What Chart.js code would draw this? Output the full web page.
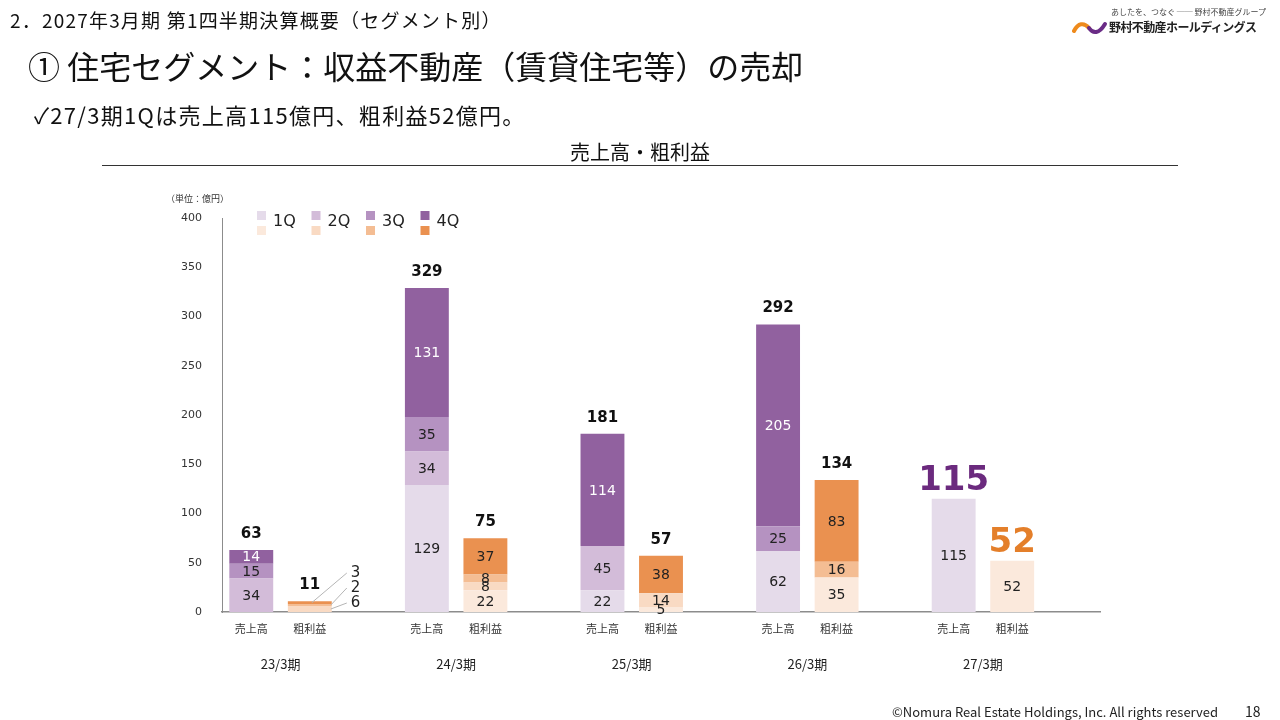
<!DOCTYPE html>
<html lang="ja">
<head>
<meta charset="utf-8">
<script src="https://cdn.jsdelivr.net/npm/chart.js@4.4.1/dist/chart.umd.min.js"></script>
<style>
	body { margin: 0; background: #fff; }
	#page { position: relative; width: 1280px; height: 720px; overflow: hidden; font-family: "Noto Sans CJK JP", "Noto Sans", sans-serif; color: #111; }
	#page canvas { position: absolute; left: 0; top: 0; }
	.txt { position: absolute; white-space: nowrap; line-height: 1; }
</style>
</head>
<body>
<div id="page">
	<canvas id="chart" width="1280" height="720"></canvas>
	<div class="txt" style="left:10px; top:10px; font-size:19px; letter-spacing:1.2px;">2．2027年3月期 第1四半期決算概要（セグメント別）</div>
	<div class="txt" style="left:28px; top:49px; font-size:32px;">① 住宅セグメント：収益不動産（賃貸住宅等）の売却</div>
	<div class="txt" style="left:34px; top:103px; font-size:22px; letter-spacing:1.3px;">✓27/3期1Qは売上高115億円、粗利益52億円。</div>
	<div class="txt" style="left:1111px; top:8px; font-size:8px; color:#444;">あしたを、つなぐ ── 野村不動産グループ</div>
	<div class="txt" style="left:1109px; top:21px; font-size:12px; letter-spacing:-0.6px; font-weight:bold; color:#222;">野村不動産ホールディングス</div>
	<svg style="position:absolute; left:1072px; top:18px;" width="36" height="20" viewBox="0 0 36 20">
		<path d="M2 13 C6 5, 12 4, 17 10" stroke="#ee8a1c" stroke-width="4" fill="none" stroke-linecap="round"/>
		<path d="M17 10 C21 16, 27 16, 33 6" stroke="#6a2c86" stroke-width="4" fill="none" stroke-linecap="round"/>
	</svg>
	<div class="txt" style="left:892px; top:705px; font-size:13px; color:#222;">©Nomura Real Estate Holdings, Inc. All rights reserved</div>
	<div class="txt" style="left:1245px; top:704px; font-size:14px; color:#222;">18</div>
</div>
<script>
// periods and quarter values (億円)
const periods = ["23/3期", "24/3期", "25/3期", "26/3期", "27/3期"];
const quarterNames = ["1Q", "2Q", "3Q", "4Q"];
const salesQ1 = [0, 129, 22, 62, 115];
const salesQ2 = [34, 34, 45, 0, 0];
const salesQ3 = [15, 35, 0, 25, 0];
const salesQ4 = [14, 131, 114, 205, 0];
const profitQ1 = [0, 22, 5, 35, 52];
const profitQ2 = [6, 8, 14, 0, 0];
const profitQ3 = [2, 8, 0, 16, 0];
const profitQ4 = [3, 37, 38, 83, 0];
const yTicks = [0, 50, 100, 150, 200, 250, 300, 350, 400];
const subLabels = ["売上高", "粗利益"];

const salesColors = ["#e5dbea", "#d3bcd9", "#b592c1", "#91619f"];
const profitColors = ["#fbe9dc", "#f9dac3", "#f4bd93", "#ea9150"];
const numFont = "'DejaVu Sans', Verdana, sans-serif";
const jpFont = "'Noto Sans CJK JP', sans-serif";

const salesSeries = [salesQ1, salesQ2, salesQ3, salesQ4];
const profitSeries = [profitQ1, profitQ2, profitQ3, profitQ4];

// three slots per period: sales, gross profit, gap
const slotLabels = [];
periods.forEach(() => slotLabels.push(subLabels[0], subLabels[1], ""));

function spread(values, offset) {
	const out = slotLabels.map(() => null);
	values.forEach((v, i) => { out[i * 3 + offset] = v; });
	return out;
}

const datasets = [];
salesSeries.forEach((vals, q) => {
	datasets.push({ label: "売上高" + quarterNames[q], data: spread(vals, 0), backgroundColor: salesColors[q], stack: "s", kind: 0, q: q });
});
profitSeries.forEach((vals, q) => {
	datasets.push({ label: "粗利益" + quarterNames[q], data: spread(vals, 1), backgroundColor: profitColors[q], stack: "s", kind: 1, q: q });
});

function total(series, i) {
	return series.reduce((sum, arr) => sum + arr[i], 0);
}

const labelPlugin = {
	id: "labels",
	afterDatasetsDraw(chart) {
		const ctx = chart.ctx;
		const area = chart.chartArea;
		const yScale = chart.scales.y;
		const xScale = chart.scales.x;
		const last = periods.length - 1;
		ctx.save();
		ctx.textAlign = "center";
		ctx.textBaseline = "middle";

		// segment values
		chart.data.datasets.forEach((ds, d) => {
			const meta = chart.getDatasetMeta(d);
			meta.data.forEach((bar, slot) => {
				const v = ds.data[slot];
				if (!v) return;
				const p = Math.floor(slot / 3);
				if (p === 0 && ds.kind === 1) return;
				ctx.font = "14px " + numFont;
				ctx.fillStyle = ds.kind === 0 && ds.q === 3 ? "#ffffff" : "#222222";
				ctx.fillText(String(v), bar.x, (bar.y + bar.base) / 2 + 1);
			});
		});

		// first period gross profit: labels outside with leader lines
		const pieces = [];
		datasets.forEach((ds, d) => {
			if (ds.kind === 1 && ds.data[1]) pieces.push({ d: d, v: ds.data[1] });
		});
		pieces.forEach((pc, k) => {
			const bar = chart.getDatasetMeta(pc.d).data[1];
			const lx = bar.x + 45;
			const ly = yScale.getPixelForValue(0) - 9 - 15 * k;
			const sx = k === pieces.length - 1 ? bar.x + 2 : bar.x + bar.width / 2 - 1;
			const sy = (bar.y + bar.base) / 2;
			ctx.strokeStyle = "#b5b5b5";
			ctx.lineWidth = 1;
			ctx.beginPath();
			ctx.moveTo(sx, sy);
			ctx.lineTo(lx - 8, ly);
			ctx.stroke();
			ctx.font = "15px " + numFont;
			ctx.fillStyle = "#222";
			ctx.textAlign = "left";
			ctx.fillText(String(pc.v), lx - 4, ly);
			ctx.textAlign = "center";
		});

		// totals
		periods.forEach((p, i) => {
			[[salesSeries, 0], [profitSeries, 1]].forEach(([series, off]) => {
				const t = total(series, i);
				const x = xScale.getPixelForValue(i * 3 + off);
				const top = yScale.getPixelForValue(t);
				if (i === last) {
					ctx.font = "bold 34px " + numFont;
					ctx.fillStyle = off === 0 ? "#6b2a7e" : "#e47f2a";
					ctx.fillText(String(t), x, top - 18);
				} else {
					ctx.font = "bold 15px " + numFont;
					ctx.fillStyle = "#111";
					ctx.fillText(String(t), x, top - 16);
				}
			});
		});

		// category labels
		slotLabels.forEach((lab, slot) => {
			if (!lab) return;
			ctx.font = "11px " + jpFont;
			ctx.fillStyle = "#333";
			ctx.fillText(lab, xScale.getPixelForValue(slot), area.bottom + 17);
		});
		periods.forEach((p, i) => {
			const x = (xScale.getPixelForValue(i * 3) + xScale.getPixelForValue(i * 3 + 1)) / 2;
			ctx.font = "13px " + jpFont;
			ctx.fillStyle = "#222";
			ctx.fillText(p, x, area.bottom + 52);
		});

		// unit
		ctx.font = "9px " + jpFont;
		ctx.fillStyle = "#333";
		ctx.textAlign = "left";
		ctx.fillText("（単位：億円）", area.left - 56, area.top - 19);

		// legend: purple row over orange row
		quarterNames.forEach((q, k) => {
			const lx = area.left + 35 + k * 54.5;
			ctx.fillStyle = salesColors[k];
			ctx.fillRect(lx, area.top - 7, 9, 9);
			ctx.fillStyle = profitColors[k];
			ctx.fillRect(lx, area.top + 8, 9, 9);
			ctx.font = "16px " + numFont;
			ctx.fillStyle = "#222";
			ctx.fillText(q, lx + 16, area.top + 4);
		});

		// chart title and rule
		ctx.textAlign = "center";
		ctx.font = "20px " + jpFont;
		ctx.fillStyle = "#111";
		ctx.fillText("売上高・粗利益", 640, 152);
		ctx.strokeStyle = "#333";
		ctx.lineWidth = 1;
		ctx.beginPath();
		ctx.moveTo(102, 165.5);
		ctx.lineTo(1178, 165.5);
		ctx.stroke();
		ctx.restore();
	}
};

new Chart(document.getElementById("chart"), {
	type: "bar",
	data: { labels: slotLabels, datasets: datasets },
	plugins: [labelPlugin],
	options: {
		responsive: false,
		animation: false,
		layout: { padding: { left: 172, top: 218, right: 180, bottom: 108 } },
		datasets: { bar: { barPercentage: 0.75, categoryPercentage: 1 } },
		plugins: { legend: { display: false }, tooltip: { enabled: false } },
		scales: {
			x: {
				stacked: true,
				grid: { display: false },
				border: { color: "#8c8c8c", width: 1.5 },
				ticks: { display: false },
				afterFit(scale) { scale.height = 0; }
			},
			y: {
				stacked: true,
				min: yTicks[0],
				max: yTicks[yTicks.length - 1],
				afterBuildTicks(scale) { scale.ticks = yTicks.map((v) => ({ value: v })); },
				ticks: { font: { family: numFont, size: 11 }, color: "#333", padding: 20 },
				grid: { display: false, drawTicks: false },
				border: { color: "#8c8c8c" },
				afterFit(scale) { scale.width = 50; }
			}
		}
	}
});
</script>
</body>
</html>
